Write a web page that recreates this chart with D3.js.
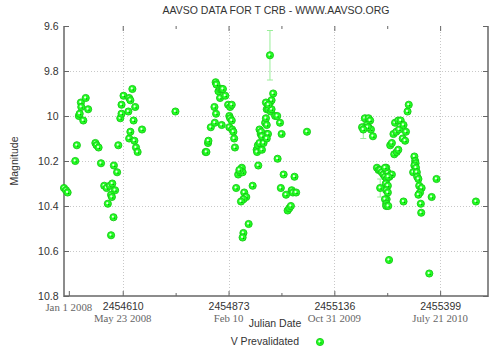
<!DOCTYPE html>
<html><head><meta charset="utf-8">
<script src="https://cdn.jsdelivr.net/npm/d3@7"></script>
<style>
html,body{margin:0;padding:0;background:#fff;}
svg{display:block;}
</style></head>
<body>
<svg id="chart" width="500" height="352"></svg>
<script>
// ---- data ----
const title = "AAVSO DATA FOR T CRB - WWW.AAVSO.ORG";
const jd = [
2454464,2454469,2454473,2454492,2454496,2454501,2454503,2454506,2454507,2454512,2454518,2454524,
2454542,2454545,2454550,2454556,2454564,2454570,2454578,2454584,2454591,2454581,2454583,2454573,
2454587,2454581,2454588,2454596,2454599,2454604,2454607,2454607,2454612,2454624,2454626,2454629,
2454626,2454629,2454634,2454637,2454641,2454639,2454643,2454647,2454658,2454741,
2454816,2454822,2454823,2454818,2454829,2454838,2454839,2454842,2454841,2454843,2454848,2454852,
2454852,2454856,2454859,2454856,2454865,2454872,2454875,2454877,2454875,2454881,2454877,2454881,
2454882,2454885,2454887,2454889,2454892,2454897,2454902,2454906,2454908,2454900,2454912,2454917,
2454910,2454904,2454923,2454910,2454908,2454933,
2454943,2454944,2454946,2454956,2454950,2454950,2454953,2454960,2454964,2454968,2454971,2454964,
2454966,2454968,2454972,2454976,2454980,2454984,2454966,2454978,2454980,2454989,2454994,2455001,
2455005,2454995,2454947,2455010,2455037,2455003,2455016,2455030,2455033,2455041,2455020,2455024,
2455028,2454972,2454954,2454968,2454956,2454968,2455068,
2455212,2455221,2455225,2455217,2455221,2455227,2455205,2455232,2455219,
2455242,2455246,2455250,2455254,2455258,2455265,2455268,2455273,2455279,2455262,2455266,2455264,
2455269,2455265,2455269,2455266,2455262,2455265,2455265,2455270,2455272,2455262,2455270,
2455275,2455279,2455285,2455291,2455295,2455283,2455290,2455297,2455287,2455295,2455301,2455308,
2455306,2455312,2455314,2455318,2455321,2455335,2455337,2455338,2455335,2455339,2455332,2455341,
2455342,2455345,2455347,2455353,2455349,2455345,2455351,2455352,2455308,2455378,2455390,2455372,
2455488
];
const mag = [
10.32,10.33,10.34,10.20,10.13,10.00,9.99,9.94,9.96,10.02,9.92,9.97,
10.12,10.13,10.14,10.21,10.31,10.32,10.31,10.30,10.33,10.35,10.36,10.39,
10.45,10.53,10.22,10.25,10.13,10.01,9.99,9.95,9.91,9.98,9.92,9.93,
10.10,10.07,9.88,10.02,9.96,10.11,10.14,10.16,10.06,9.98,
10.16,10.12,10.11,10.16,10.05,9.96,10.03,9.99,9.85,9.86,9.89,9.88,
9.92,9.88,9.88,10.04,9.91,9.95,10.00,9.96,10.05,9.95,10.01,10.02,
10.06,10.07,10.10,10.14,10.32,10.26,10.25,10.23,10.25,10.24,10.34,10.36,
10.37,10.38,10.48,10.52,10.54,10.31,
10.15,10.16,10.13,10.15,10.12,10.06,10.08,10.12,10.09,10.08,10.08,10.03,
10.01,9.97,9.97,9.94,9.93,9.90,9.94,9.98,9.97,10.00,10.00,10.03,
10.08,10.19,10.22,10.26,10.27,10.32,10.35,10.33,10.34,10.34,10.42,10.41,
10.40,9.95,10.07,10.04,10.09,10.10,10.07,
10.01,10.01,10.02,10.04,10.05,10.06,10.05,10.09,10.05,
10.23,10.24,10.24,10.25,10.26,10.23,10.25,10.27,10.26,10.27,10.28,10.30,
10.31,10.33,10.34,10.37,10.37,10.39,10.40,10.40,10.64,10.23,10.27,
10.13,10.12,10.17,10.16,10.15,10.08,10.07,10.06,10.03,10.02,10.02,10.04,
10.10,10.11,10.07,9.98,9.95,10.18,10.20,10.21,10.22,10.23,10.25,10.25,
10.27,10.28,10.31,10.32,10.34,10.35,10.39,10.43,10.38,10.36,10.28,10.70,
10.38
];
// points drawn with an uncertainty bar
const errJD  = [2454976, 2455208, 2455250];
const errMag = [9.73, 10.06, 10.32];
const errSize= [0.11, 0.04, 0.04];

const yTicks = [9.6, 9.8, 10, 10.2, 10.4, 10.6, 10.8];
const yGrid  = [9.8, 10, 10.2, 10.4, 10.6];
const xMajor = [2454610, 2454873, 2455136, 2455399];
const xMinor = [2454741.5, 2455004.5, 2455267.5];
const xMajorDates = ["May 23 2008", "Feb 10", "Oct 31 2009", "July 21 2010"];
const firstTickJD = 2454476;
const firstTickLabel = "Jan 1 2008";
const legendLabel = "V Prevalidated";
const xTitle = "Julian Date";
const yTitle = "Magnitude";

// ---- drawing ----
const svg = d3.select("#chart");
const L = 64, R = 488, T = 26, B = 296;
const x = d3.scaleLinear().domain([2454464, 2455518]).range([L, R]);
const y = d3.scaleLinear().domain([9.6, 10.8]).range([T, B]);
const textCol = "#333";
const axisCol = "#666";
const sans = "'Liberation Sans', Arial, sans-serif";
const serif = "'Liberation Serif', 'Times New Roman', serif";

svg.append("text").attr("x", 276).attr("y", 13.5).attr("text-anchor", "middle")
  .attr("font-family", sans).attr("font-size", 10.5).attr("fill", textCol).text(title);

// grid
const grid = svg.append("g").attr("stroke", "#c8c8c8").attr("stroke-dasharray", "1,2").attr("stroke-width", 1);
grid.selectAll("line.h").data(yGrid).join("line")
  .attr("x1", L).attr("x2", R).attr("y1", d => Math.round(y(d)) + 0.5).attr("y2", d => Math.round(y(d)) + 0.5);
grid.selectAll("line.v").data(xMajor).join("line")
  .attr("y1", T).attr("y2", B).attr("x1", d => Math.round(x(d)) + 0.5).attr("x2", d => Math.round(x(d)) + 0.5);

// axes via d3 axis generators (ticks pointing inward)
const yLeft = d3.axisLeft(y).tickValues(yTicks).tickSize(-5).tickPadding(5.5)
  .tickFormat(d => d3.format("")(d));
svg.append("g").attr("transform", `translate(${L},0)`).call(yLeft);
svg.append("g").attr("transform", `translate(${R},0)`)
  .call(d3.axisRight(y).tickValues(yTicks).tickSize(-5).tickFormat(""));
const xTickAll = [firstTickJD, ...xMajor];
svg.append("g").attr("transform", `translate(0,${B})`)
  .call(d3.axisBottom(x).tickValues(xTickAll).tickSize(-5).tickPadding(7)
    .tickFormat(d => d === firstTickJD ? "" : d3.format("d")(d)));
svg.append("g").attr("transform", `translate(0,${B})`)
  .call(d3.axisBottom(x).tickValues(xMinor).tickSize(-3).tickFormat(""));
svg.append("g").attr("transform", `translate(0,${T})`)
  .call(d3.axisTop(x).tickValues(xTickAll.slice(1)).tickSize(-5).tickFormat(""));
svg.append("g").attr("transform", `translate(0,${T})`)
  .call(d3.axisTop(x).tickValues(xMinor).tickSize(-3).tickFormat(""));

svg.selectAll(".domain").remove();
svg.selectAll(".tick line").attr("stroke", axisCol).attr("stroke-width", 1);
svg.selectAll(".tick text").attr("font-family", sans).attr("font-size", 10.5).attr("fill", textCol);

// frame lines
svg.append("line").attr("x1", L).attr("x2", L).attr("y1", T).attr("y2", B + 1).attr("stroke", axisCol).attr("stroke-width", 1.5);
svg.append("line").attr("x1", L).attr("x2", R).attr("y1", B).attr("y2", B).attr("stroke", axisCol).attr("stroke-width", 1.5);
svg.append("line").attr("x1", R).attr("x2", R).attr("y1", T).attr("y2", B + 1).attr("stroke", axisCol).attr("stroke-width", 1.5);

// date labels
svg.append("g").selectAll("text").data(xMajor).join("text")
  .attr("x", d => x(d)).attr("y", 321.5).attr("text-anchor", "middle")
  .attr("font-family", serif).attr("font-size", 10.8).attr("fill", "#666")
  .text((d, i) => xMajorDates[i]);
svg.append("text").attr("x", x(firstTickJD)).attr("y", 310.5).attr("text-anchor", "middle")
  .attr("font-family", serif).attr("font-size", 10.8).attr("fill", "#666").text(firstTickLabel);

// axis titles
svg.append("text").attr("x", 275).attr("y", 326.5).attr("text-anchor", "middle")
  .attr("font-family", sans).attr("font-size", 10.5).attr("fill", textCol).text(xTitle);
svg.append("text").attr("transform", "translate(18,161) rotate(-90)").attr("text-anchor", "middle")
  .attr("font-family", sans).attr("font-size", 10.5).attr("fill", textCol).text(yTitle);

// error bars
const eb = svg.append("g").attr("stroke", "#99ee99").attr("stroke-width", 1);
errJD.forEach((d, i) => {
  const cx = x(d), y1 = y(errMag[i] - errSize[i]), y2 = y(errMag[i] + errSize[i]);
  eb.append("line").attr("x1", cx).attr("x2", cx).attr("y1", y1).attr("y2", y2);
  eb.append("line").attr("x1", cx - 3).attr("x2", cx + 3).attr("y1", y1).attr("y2", y1);
  eb.append("line").attr("x1", cx - 3).attr("x2", cx + 3).attr("y1", y2).attr("y2", y2);
});

// markers
function marker(g, cx, cy) {
  g.append("circle").attr("cx", cx).attr("cy", cy).attr("r", 3.6)
    .attr("fill", "#22ff22").attr("stroke", "#18c818").attr("stroke-width", 0.9);
  g.append("circle").attr("cx", cx - 0.6).attr("cy", cy - 0.6).attr("r", 1.1).attr("fill", "#eaffea");
  g.append("circle").attr("cx", cx + 0.9).attr("cy", cy + 0.9).attr("r", 0.7).attr("fill", "#0a9a0a");
}
const pts = svg.append("g");
const allJD = jd.concat(errJD), allMag = mag.concat(errMag);
allJD.forEach((d, i) => marker(pts, x(d), y(allMag[i])));

// legend
svg.append("text").attr("x", 299).attr("y", 345).attr("text-anchor", "end")
  .attr("font-family", sans).attr("font-size", 10.5).attr("fill", textCol).text(legendLabel);
marker(svg.append("g"), 320, 342);
</script>
</body></html>
